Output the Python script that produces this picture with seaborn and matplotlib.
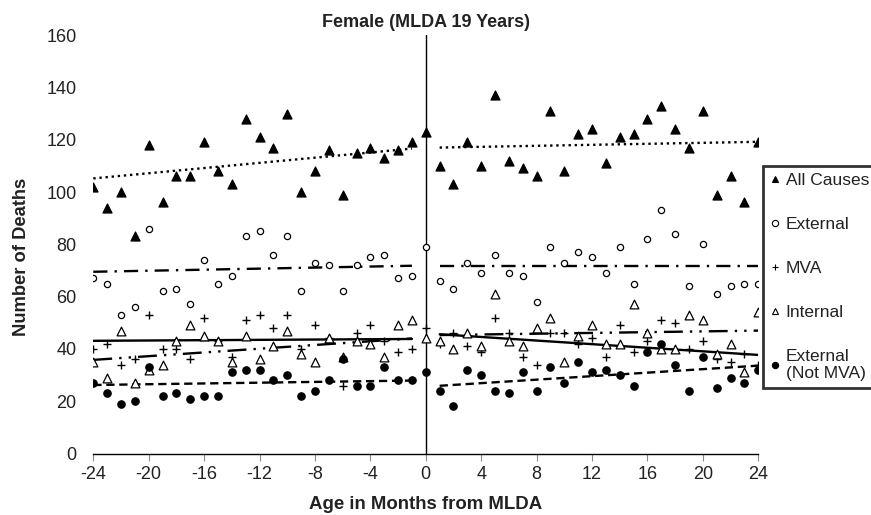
import numpy as np
import pandas as pd
import matplotlib
matplotlib.use("Agg")
import matplotlib.pyplot as plt
from matplotlib.lines import Line2D
from matplotlib import font_manager
import seaborn as sns

# ---------------- data ----------------
months = list(range(-24, 25))
all_causes = [102, 94, 100, 83, 118, 96, 106, 106, 119, 108, 103, 128, 121, 117, 130, 100, 108, 116, 99, 115, 117, 113, 116, 119,
              123,
              110, 103, 119, 110, 137, 112, 109, 106, 131, 108, 122, 124, 111, 121, 122, 128, 133, 124, 117, 131, 99, 106, 96, 119]
external = [67, 65, 53, 56, 86, 62, 63, 57, 74, 65, 68, 83, 85, 76, 83, 62, 73, 72, 62, 72, 75, 76, 67, 68,
            79,
            66, 63, 73, 69, 76, 69, 68, 58, 79, 73, 77, 75, 69, 79, 65, 82, 93, 84, 64, 80, 61, 64, 65, 65]
mva = [40, 42, 34, 36, 53, 40, 40, 36, 52, 43, 37, 51, 53, 48, 53, 40, 49, 44, 26, 46, 49, 43, 39, 40,
       48,
       42, 46, 41, 39, 52, 46, 37, 34, 46, 46, 42, 44, 37, 49, 39, 43, 51, 50, 40, 43, 36, 35, 38, 34]
internal = [35, 29, 47, 27, 32, 34, 43, 49, 45, 43, 35, 45, 36, 41, 47, 38, 35, 44, 37, 43, 42, 37, 49, 51,
            44,
            43, 40, 46, 41, 61, 43, 41, 48, 52, 35, 45, 49, 42, 42, 57, 46, 40, 40, 53, 51, 38, 42, 31, 54]
ext_not_mva = [27, 23, 19, 20, 33, 22, 23, 21, 22, 22, 31, 32, 32, 28, 30, 22, 24, 28, 36, 26, 26, 33, 28, 28,
               31,
               24, 18, 32, 30, 24, 23, 31, 24, 33, 27, 35, 31, 32, 30, 26, 39, 42, 34, 24, 37, 25, 29, 27, 32]
series_names = ["All Causes", "External", "MVA", "Internal", "External\n(Not MVA)"]

# fitted trend values (start, end), before and after the MLDA
trend_months_before = [-24, -1]
trend_months_after = [1, 24]
trend_all_before, trend_all_after = [105.2, 116.6], [117.0, 119.2]
trend_ext_before, trend_ext_after = [69.5, 71.8], [71.8, 71.8]
trend_mva_before, trend_mva_after = [43.1, 43.8], [45.6, 37.7]
trend_int_before, trend_int_after = [35.8, 44.0], [45.3, 47.0]
trend_enm_before, trend_enm_after = [26.2, 27.9], [25.9, 33.6]

x_ticks = list(range(-24, 25, 4))
y_ticks = list(range(0, 161, 20))

# ---------------- style ----------------
sns.set_theme(style="white")
plt.rcParams["font.family"] = ["Liberation Sans", "DejaVu Sans"]
names = {f.name for f in font_manager.fontManager.ttflist}
title_family = ["Liberation Sans Narrow", "Liberation Sans"] if "Liberation Sans Narrow" in names else ["Liberation Sans"]

fig = plt.figure(figsize=(8.71, 5.15), dpi=100)
ax = fig.add_axes([0.1071, 0.1194, 0.7635, 0.8124])

df = pd.DataFrame({"month": months, "All Causes": all_causes, "External": external,
                   "MVA": mva, "Internal": internal, "External\n(Not MVA)": ext_not_mva})

styles = {
    "All Causes": dict(marker="^", fc="black", s=42, ls=(0, (1, 1.6)),
                       trend=(trend_all_before, trend_all_after)),
    "External": dict(marker="o", fc="white", s=20, ls=(0, (6, 3, 1, 3)),
                     trend=(trend_ext_before, trend_ext_after)),
    "MVA": dict(marker="+", fc="black", s=38, ls="-",
                trend=(trend_mva_before, trend_mva_after)),
    "Internal": dict(marker="^", fc="white", s=40, ls=(0, (8, 3, 1, 3, 1, 3)),
                     trend=(trend_int_before, trend_int_after)),
    "External\n(Not MVA)": dict(marker="o", fc="black", s=28, ls=(0, (3.5, 2)),
                                trend=(trend_enm_before, trend_enm_after)),
}

for name in series_names:
    st = styles[name]
    if st["marker"] == "+":
        sns.scatterplot(data=df, x="month", y=name, marker="+", color="black", s=st["s"],
                        linewidth=1.0, ax=ax, legend=False, zorder=3)
    else:
        sns.scatterplot(data=df, x="month", y=name, marker=st["marker"], facecolor=st["fc"],
                        edgecolor="black", s=st["s"], linewidth=0.9, ax=ax, legend=False, zorder=3)
    for xs, ys in ((trend_months_before, st["trend"][0]), (trend_months_after, st["trend"][1])):
        sns.lineplot(x=xs, y=ys, ax=ax, color="black", lw=1.7, linestyle=st["ls"], zorder=2,
                     legend=False, errorbar=None)

ax.axvline(0, color="black", lw=1.0, zorder=1)

ax.set_xlim(-24, 24)
ax.set_ylim(0, 160)
ax.set_xticks(x_ticks)
ax.set_xticklabels([str(t) for t in x_ticks])
ax.set_yticks(y_ticks)
ax.set_yticklabels([str(t) for t in y_ticks])
for s in ["top", "right", "left"]:
    ax.spines[s].set_visible(False)
ax.spines["bottom"].set_color("black")
ax.spines["bottom"].set_linewidth(1.0)
ax.tick_params(axis="x", which="major", direction="out", length=5, width=0.8, color="#888888",
               bottom=True, labelsize=13, pad=4, labelcolor="#222222")
ax.tick_params(axis="y", length=0, labelsize=13, pad=12, labelcolor="#222222")
ax.grid(False)

ax.set_xlabel("Age in Months from MLDA", fontsize=13.4, fontweight="bold", color="#222222", labelpad=9)
ax.set_ylabel("Number of Deaths", fontsize=13.2, fontweight="bold", color="#222222")
ax.yaxis.set_label_coords(-0.095, 0.47)
ax.set_title("Female (MLDA 19 Years)", fontsize=13, fontweight="bold", color="#222222", pad=6,
             family=title_family)

handles = []
for name in series_names:
    st = styles[name]
    if st["marker"] == "+":
        h = Line2D([], [], marker="+", ls="none", color="black", ms=5, mew=0.8)
    else:
        h = Line2D([], [], marker=st["marker"], ls="none", mfc=st["fc"], mec="black", ms=4.5, mew=0.8)
    handles.append(h)

leg = fig.legend(handles, series_names, loc="upper left",
                 bbox_to_anchor=(763 / 871, 1 - 166 / 515, 0.16, 0), mode="expand",
                 frameon=True, fancybox=False, fontsize=12.5, labelspacing=1.66, handlelength=0.6,
                 handletextpad=0.3, borderpad=0.4, borderaxespad=0)
leg.get_frame().set_edgecolor("black")
leg.get_frame().set_linewidth(2)
for t in leg.get_texts():
    t.set_color("#222222")

fig.savefig("out.png", dpi=100)
